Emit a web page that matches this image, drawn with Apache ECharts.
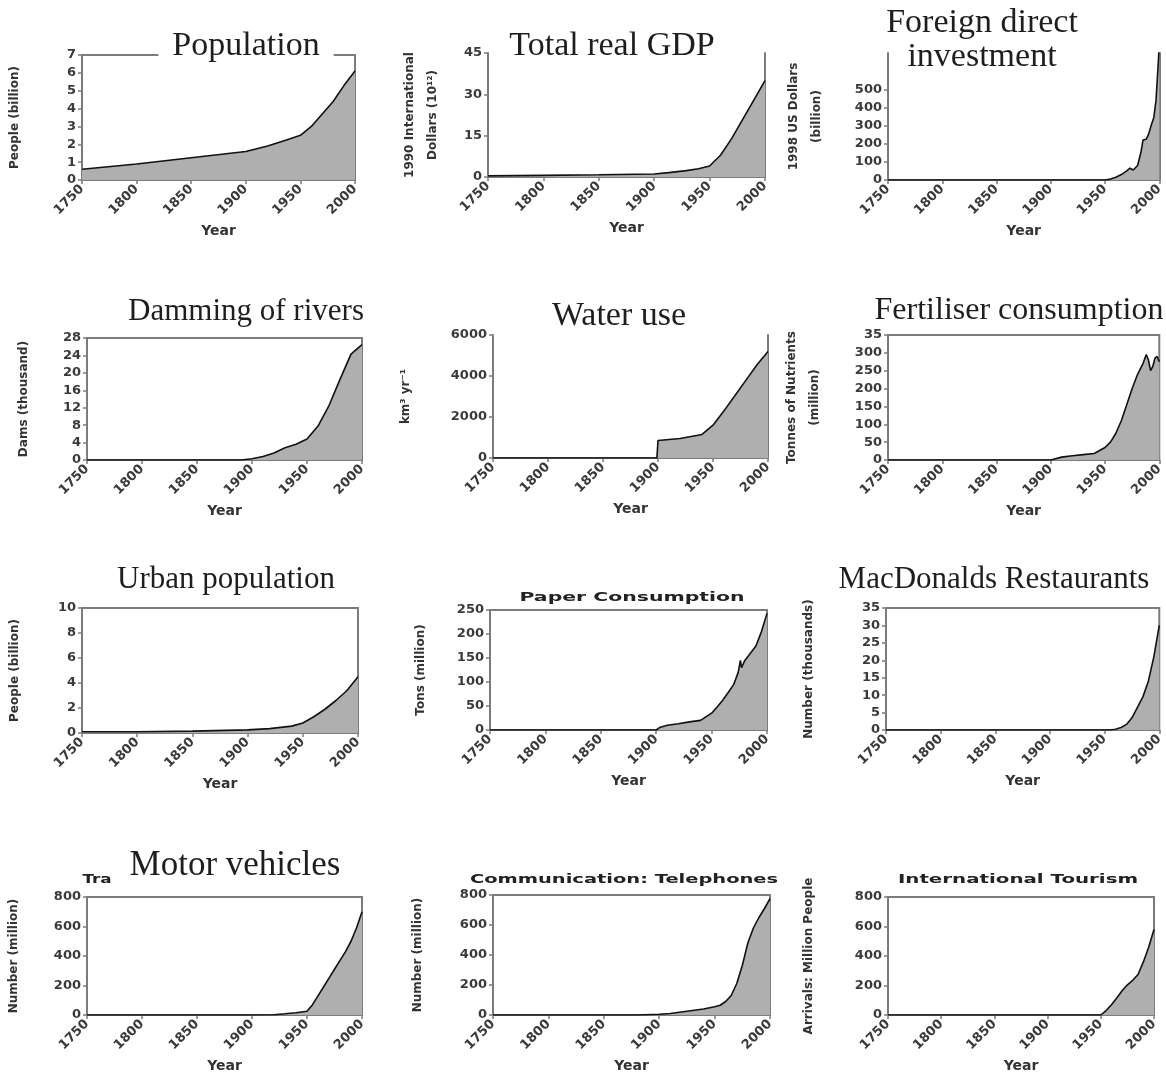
<!DOCTYPE html>
<html><head><meta charset="utf-8">
<script src="https://cdn.jsdelivr.net/npm/echarts@6/dist/echarts.min.js"></script>
<style>html,body{margin:0;padding:0;background:#fff}#c{width:1166px;height:1074px}</style>
</head><body><div id="c"></div>
<script>
// ---- shared ticks ----
const yearTicks = [1750, 1800, 1850, 1900, 1950, 2000];

// ---- data ----
const popYears   = [1750, 1800, 1850, 1900, 1920, 1940, 1950, 1960, 1970, 1980, 1990, 2000];
const popValues  = [0.6, 0.9, 1.25, 1.6, 1.9, 2.3, 2.5, 3.0, 3.7, 4.4, 5.3, 6.1];
const popTicks   = [0, 1, 2, 3, 4, 5, 6, 7];

const gdpYears   = [1750, 1800, 1850, 1900, 1913, 1929, 1940, 1950, 1960, 1970, 1980, 1990, 2000];
const gdpValues  = [0.4, 0.6, 0.8, 1.1, 1.6, 2.3, 3.0, 4.0, 8.0, 14, 21, 28, 35];
const gdpTicks   = [0, 15, 30, 45];

const fdiYears   = [1750, 1950, 1955, 1960, 1965, 1970, 1973, 1976, 1980, 1983, 1985, 1988, 1990, 1993, 1995, 1997, 1999, 2000];
const fdiValues  = [0, 0, 5, 15, 30, 50, 65, 55, 80, 150, 220, 225, 250, 310, 345, 440, 640, 750];
const fdiTicks   = [0, 100, 200, 300, 400, 500];

const damYears   = [1750, 1890, 1900, 1910, 1920, 1930, 1940, 1950, 1960, 1970, 1980, 1990, 2000];
const damValues  = [0, 0, 0.3, 0.8, 1.6, 2.8, 3.6, 4.8, 7.8, 12.5, 18.5, 24.3, 26.5];
const damTicks   = [0, 4, 8, 12, 16, 20, 24, 28];

const waterYears  = [1750, 1899, 1900, 1920, 1940, 1950, 1960, 1970, 1980, 1990, 2000];
const waterValues = [0, 0, 850, 950, 1150, 1600, 2300, 3050, 3800, 4550, 5200];
const waterTicks  = [0, 2000, 4000, 6000];

const fertYears  = [1750, 1900, 1910, 1920, 1930, 1940, 1950, 1955, 1960, 1965, 1970, 1975, 1980, 1985, 1988, 1990, 1992, 1994, 1996, 1998, 2000];
const fertValues = [0, 0, 8, 12, 15, 18, 35, 50, 75, 110, 155, 200, 240, 270, 295, 280, 250, 262, 285, 290, 275];
const fertTicks  = [0, 50, 100, 150, 200, 250, 300, 350];

const urbanYears  = [1750, 1800, 1850, 1900, 1920, 1940, 1950, 1960, 1970, 1980, 1990, 2000];
const urbanValues = [0.1, 0.1, 0.15, 0.25, 0.35, 0.55, 0.8, 1.3, 1.9, 2.6, 3.4, 4.5];
const urbanTicks  = [0, 2, 4, 6, 8, 10];

const paperYears  = [1750, 1900, 1903, 1910, 1920, 1930, 1940, 1950, 1955, 1960, 1965, 1970, 1974, 1976, 1977, 1980, 1985, 1990, 1995, 2000];
const paperValues = [0, 0, 5, 10, 13, 17, 20, 35, 48, 62, 78, 95, 120, 145, 130, 145, 160, 175, 205, 243];
const paperTicks  = [0, 50, 100, 150, 200, 250];

const mcdYears  = [1750, 1950, 1955, 1960, 1965, 1970, 1975, 1980, 1985, 1990, 1995, 2000];
const mcdValues = [0, 0, 0, 0.2, 0.7, 1.6, 3.5, 6.5, 9.5, 14, 21, 30];
const mcdTicks  = [0, 5, 10, 15, 20, 25, 30, 35];

const motorYears  = [1750, 1900, 1920, 1930, 1940, 1950, 1955, 1960, 1965, 1970, 1975, 1980, 1985, 1990, 1995, 2000];
const motorValues = [0, 0, 2, 8, 15, 25, 70, 130, 190, 250, 310, 370, 430, 500, 590, 700];
const motorTicks  = [0, 200, 400, 600, 800];

const phoneYears  = [1750, 1880, 1900, 1910, 1920, 1930, 1940, 1950, 1955, 1960, 1965, 1970, 1975, 1980, 1985, 1990, 1995, 2000];
const phoneValues = [0, 0, 5, 10, 20, 30, 40, 55, 65, 90, 130, 210, 330, 480, 580, 650, 710, 775];
const phoneTicks  = [0, 200, 400, 600, 800];

const tourYears  = [1750, 1950, 1955, 1960, 1965, 1970, 1975, 1980, 1985, 1990, 1995, 2000];
const tourValues = [0, 0, 30, 70, 115, 165, 205, 235, 275, 360, 460, 580];
const tourTicks  = [0, 200, 400, 600, 800];

// ---- layout ----
const panels = [
  {years: popYears,   values: popValues,   ticks: popTicks,   max: 7,    box: [82, 55, 273, 125],  name: 'People (billion)', gap: 56, frame: true},
  {years: gdpYears,   values: gdpValues,   ticks: gdpTicks,   max: 45,   box: [488, 53, 277, 124], name: '1990 International\nDollars (10¹²)', gap: 44, frame: false, right: true},
  {years: fdiYears,   values: fdiValues,   ticks: fdiTicks,   max: 700,  box: [888, 53, 275, 127], name: '1998 US Dollars\n(billion)', gap: 60, frame: false, right: true},
  {years: damYears,   values: damValues,   ticks: damTicks,   max: 28,   box: [87, 338, 275, 122], name: 'Dams (thousand)', gap: 52, frame: true},
  {years: waterYears, values: waterValues, ticks: waterTicks, max: 6000, box: [493, 335, 275, 123], name: 'km³ yr⁻¹', gap: 76, frame: false, right: true},
  {years: fertYears,  values: fertValues,  ticks: fertTicks,  max: 350,  box: [888, 335, 275, 125], name: 'Tonnes of Nutrients\n(million)', gap: 62, frame: true, fmt: v => v === 350 ? '35' : String(v)},
  {years: urbanYears, values: urbanValues, ticks: urbanTicks, max: 10,   box: [82, 608, 276, 125], name: 'People (billion)', gap: 56, frame: true},
  {years: paperYears, values: paperValues, ticks: paperTicks, max: 250,  box: [490, 610, 277, 120], name: 'Tons (million)', gap: 58, frame: true},
  {years: mcdYears,   values: mcdValues,   ticks: mcdTicks,   max: 35,   box: [886, 608, 277, 122], name: 'Number (thousands)', gap: 66, frame: true},
  {years: motorYears, values: motorValues, ticks: motorTicks, max: 800,  box: [87, 897, 275, 121], name: 'Number (million)', gap: 62, frame: true},
  {years: phoneYears, values: phoneValues, ticks: phoneTicks, max: 800,  box: [493, 895, 277, 122], name: 'Number (million)', gap: 64, frame: true},
  {years: tourYears,  values: tourValues,  ticks: tourTicks,  max: 800,  box: [888, 897, 266, 120], name: 'Arrivals: Million People', gap: 68, frame: true}
];

const FRAME = '#7c7c7c';
const LABEL = '#3a3a3a';
const SANS = 'DejaVu Sans';

const grids = [], xAxes = [], yAxes = [], series = [];
panels.forEach((p, i) => {
  grids.push({left: p.box[0], top: p.box[1], width: p.box[2], height: p.box[3],
    show: p.frame, borderColor: FRAME, borderWidth: 2, backgroundColor: 'transparent', containLabel: false});
  xAxes.push({
    type: 'value', gridIndex: i, min: 1750, max: 2000, interval: 50,
    name: 'Year', nameLocation: 'middle', nameGap: 44,
    nameTextStyle: {fontFamily: SANS, fontWeight: 'bold', fontSize: 14, color: '#333'},
    axisLine: {show: true, onZero: false, lineStyle: {color: FRAME, width: 2}},
    axisTick: {show: true, length: 4, customValues: yearTicks, lineStyle: {color: FRAME, width: 1.5}},
    axisLabel: {rotate: 45, margin: 7, customValues: yearTicks, fontFamily: SANS, fontWeight: 'bold', fontSize: 13, color: LABEL, formatter: v => String(v)},
    splitLine: {show: false}
  });
  const yi = yAxes.length;
  yAxes.push({
    type: 'value', gridIndex: i, min: 0, max: p.max,
    name: p.name, nameLocation: 'middle', nameGap: p.gap,
    nameTextStyle: {fontFamily: SANS, fontWeight: 'bold', fontSize: 12, color: '#333', lineHeight: 23},
    axisLine: {show: true, lineStyle: {color: FRAME, width: 2}},
    axisTick: {show: true, length: 4, customValues: p.ticks, lineStyle: {color: FRAME, width: 1.5}},
    axisLabel: {customValues: p.ticks, margin: 6, fontFamily: SANS, fontWeight: 'bold', fontSize: 13, color: LABEL, formatter: p.fmt || (v => String(v))},
    splitLine: {show: false}
  });
  if (p.right) {
    yAxes.push({type: 'value', gridIndex: i, position: 'right', min: 0, max: 1,
      axisLine: {show: true, lineStyle: {color: FRAME, width: 2}}, axisTick: {show: false}, axisLabel: {show: false}, splitLine: {show: false}});
  }
  series.push({
    type: 'line', xAxisIndex: i, yAxisIndex: yi,
    data: p.years.map((y, k) => [y, p.values[k]]),
    showSymbol: false, symbol: 'none', silent: true, z: 3,
    lineStyle: {color: '#111', width: 1.6},
    areaStyle: {color: '#afafaf', opacity: 1}
  });
});

const serif = (text, x, y, size, bg) => ({
  type: 'text', x: x, y: y, z: 100,
  style: Object.assign({text: text, x: 0, y: 0, align: 'center', verticalAlign: 'middle', textAlign: 'center', textVerticalAlign: 'middle',
    font: size + 'px "Liberation Serif"', fill: '#1e1e1e'}, bg ? {backgroundColor: '#fff', padding: [0, 14]} : {})
});
const boldSans = (text, x, y, sx) => ({
  type: 'text', x: x, y: y, z: 100, scaleX: sx,
  style: {text: text, x: 0, y: 0, align: 'center', verticalAlign: 'middle', textAlign: 'center', textVerticalAlign: 'middle',
    font: 'bold 12px "DejaVu Sans"', fill: '#222'}
});

const graphics = [
  serif('Population', 246, 46, 34, true),
  serif('Total real GDP', 612, 46, 34, false),
  serif('Foreign direct', 982, 23, 34, false),
  serif('investment', 982, 57, 34, false),
  serif('Damming of rivers', 246, 312, 31, false),
  serif('Water use', 619, 316, 34, false),
  serif('Fertiliser consumption', 1019, 311, 32, false),
  serif('Urban population', 226, 580, 31, false),
  boldSans('Paper Consumption', 632, 598, 1.7),
  serif('MacDonalds Restaurants', 994, 580, 31, false),
  serif('Motor vehicles', 235, 866, 35, false),
  boldSans('Tra', 97, 880, 1.4),
  boldSans('Communication: Telephones', 624, 880, 1.62),
  boldSans('International Tourism', 1018, 880, 1.65)
];

const chart = echarts.init(document.getElementById('c'));
chart.setOption({
  animation: false,
  backgroundColor: '#ffffff',
  grid: grids, xAxis: xAxes, yAxis: yAxes, series: series,
  graphic: graphics
});
</script></body></html>
